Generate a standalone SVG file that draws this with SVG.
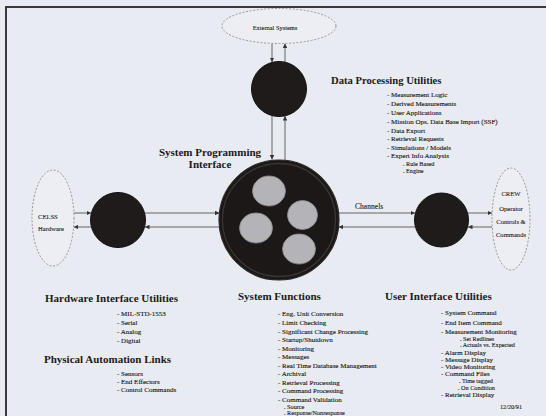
<svg xmlns="http://www.w3.org/2000/svg" width="546" height="416" viewBox="0 0 546 416">
  <style>
    .bg { fill: #e8ebf1; }
    .frame { fill: none; stroke: #3a3a3e; stroke-width: 2; }
    .ext { fill: #eceef3; stroke: #8c8c92; stroke-width: 0.9; stroke-dasharray: 2 1.6; }
    .hub { fill: #201b1b; stroke: #141010; stroke-width: 1; }
    .core { fill: #1d1818; stroke: #2c2727; stroke-width: 1.2; }
    .ring { fill: none; stroke: #3a3434; stroke-width: 1.4; }
    .pod { fill: #b4b4b8; stroke: #8d8d92; stroke-width: 0.8; }
    .link { stroke: #555; stroke-width: 0.9; fill: none; }
    .head { font-family: "Liberation Serif", "Times New Roman", serif; font-weight: bold; font-size: 11px; fill: #1a1a1a; }
    .item { font-family: "Liberation Serif", "Times New Roman", serif; font-size: 7px; fill: #161616; stroke: #161616; stroke-width: 0.12; }
    .sub { font-family: "Liberation Serif", "Times New Roman", serif; font-size: 6.2px; fill: #161616; stroke: #161616; stroke-width: 0.1; }
    .lbl { font-family: "Liberation Serif", "Times New Roman", serif; font-size: 6.6px; fill: #222; stroke: #222; stroke-width: 0.1; }
  </style>
  <defs>
    <marker id="arrow" viewBox="0 0 6 6" refX="6" refY="3" markerWidth="4.5" markerHeight="4.5" markerUnits="userSpaceOnUse" orient="auto">
      <path d="M0,0 L6,3 L0,6 z" fill="#333"/>
    </marker>
  </defs>

  <!-- page -->
  <rect class="bg" x="0" y="0" width="546" height="416"/>
  <rect class="frame" x="6" y="7" width="560" height="430"/>

  <!-- connectors -->
  <g id="connectors">
    <!-- External Systems <-> top hub -->
    <line class="link" x1="272" y1="44" x2="272" y2="62" marker-end="url(#arrow)"/>
    <line class="link" x1="285" y1="62" x2="285" y2="43.5" marker-end="url(#arrow)"/>
    <!-- top hub <-> core -->
    <line class="link" x1="272" y1="116" x2="272" y2="159.5" marker-end="url(#arrow)"/>
    <line class="link" x1="285" y1="160" x2="285" y2="116" marker-end="url(#arrow)"/>
    <!-- CELSS <-> left hub -->
    <line class="link" x1="73.5" y1="213" x2="91" y2="213" marker-end="url(#arrow)"/>
    <line class="link" x1="91" y1="227" x2="73.8" y2="227" marker-end="url(#arrow)"/>
    <!-- left hub <-> core -->
    <line class="link" x1="145" y1="213" x2="219.5" y2="213" marker-end="url(#arrow)"/>
    <line class="link" x1="219.5" y1="227" x2="145" y2="227" marker-end="url(#arrow)"/>
    <!-- core <-> right hub (channels) -->
    <line class="link" x1="338.7" y1="213" x2="415" y2="213" marker-end="url(#arrow)"/>
    <line class="link" x1="415" y1="227" x2="338.7" y2="227" marker-end="url(#arrow)"/>
    <!-- right hub <-> CREW -->
    <line class="link" x1="468" y1="213" x2="492" y2="213" marker-end="url(#arrow)"/>
    <line class="link" x1="492" y1="227" x2="468" y2="227" marker-end="url(#arrow)"/>
    <text class="lbl" x="355" y="208.5" style="font-size:7.6px">Channels</text>
  </g>

  <!-- External Systems -->
  <g id="external-systems">
    <ellipse class="ext" cx="279" cy="26" rx="57" ry="17.5"/>
    <text class="lbl" x="275" y="30" text-anchor="middle" style="font-size:6.4px">External Systems</text>
  </g>

  <!-- Data Processing Utilities hub -->
  <g id="data-processing">
    <circle class="hub" cx="279" cy="89" r="27.5"/>
    <text class="head" x="331" y="83.5" style="font-size:10.6px">Data Processing Utilities</text>
    <text class="item" x="387" y="97">- Measurement Logic</text>
    <text class="item" x="387" y="106">- Derived Measurements</text>
    <text class="item" x="387" y="115">- User Applications</text>
    <text class="item" x="387" y="124">- Mission Ops. Data Base Import (SSF)</text>
    <text class="item" x="387" y="132.5">- Data Export</text>
    <text class="item" x="387" y="141">- Retrieval Requests</text>
    <text class="item" x="387" y="149.5">- Simulations / Models</text>
    <text class="item" x="387" y="158">- Expert Info Analysis</text>
    <text class="sub" x="403" y="166">. Rule Based</text>
    <text class="sub" x="403" y="173">. Engine</text>
  </g>

  <!-- System Programming Interface / System Functions core -->
  <g id="system-core">
    <text class="head" x="210" y="156" text-anchor="middle">System Programming</text>
    <text class="head" x="210" y="168" text-anchor="middle">Interface</text>
    <circle class="core" cx="279" cy="220" r="60"/>
    <circle class="ring" cx="279" cy="220" r="56.5"/>
    <ellipse class="pod" cx="269" cy="191" rx="16.5" ry="15"/>
    <ellipse class="pod" cx="302.5" cy="215" rx="15" ry="14.5"/>
    <ellipse class="pod" cx="256" cy="228" rx="16.5" ry="15"/>
    <ellipse class="pod" cx="299" cy="249" rx="16.5" ry="15"/>
    <text class="head" x="238" y="300">System Functions</text>
    <text class="item" x="278" y="315.5">- Eng. Unit Conversion</text>
    <text class="item" x="278" y="324.5">- Limit Checking</text>
    <text class="item" x="278" y="333.5">- Significant Change Processing</text>
    <text class="item" x="278" y="342">- Startup/Shutdown</text>
    <text class="item" x="278" y="350.5">- Monitoring</text>
    <text class="item" x="278" y="359">- Messages</text>
    <text class="item" x="278" y="367.5">- Real Time Database Management</text>
    <text class="item" x="278" y="376">- Archival</text>
    <text class="item" x="278" y="384.5">- Retrieval Processing</text>
    <text class="item" x="278" y="393">- Command Processing</text>
    <text class="item" x="278" y="401.5">- Command Validation</text>
    <text class="sub" x="284" y="408.5">. Source</text>
    <text class="sub" x="284" y="415">. Response/Nonresponse</text>
  </g>

  <!-- CELSS Hardware -->
  <g id="celss-hardware">
    <ellipse class="ext" cx="53" cy="218" rx="21" ry="48"/>
    <text class="lbl" x="38" y="219">CELSS</text>
    <text class="lbl" x="38" y="230.5">Hardware</text>
  </g>

  <!-- Hardware Interface Utilities hub -->
  <g id="hardware-interface">
    <circle class="hub" cx="118" cy="220" r="27.5"/>
    <text class="head" x="45" y="301.5">Hardware Interface Utilities</text>
    <text class="item" x="117" y="316">- MIL-STD-1553</text>
    <text class="item" x="117" y="325">- Serial</text>
    <text class="item" x="117" y="334">- Analog</text>
    <text class="item" x="117" y="342.5">- Digital</text>
  </g>

  <!-- Physical Automation Links -->
  <g id="physical-automation">
    <text class="head" x="44" y="363">Physical Automation Links</text>
    <text class="item" x="117" y="376">- Sensors</text>
    <text class="item" x="117" y="384">- End Effectors</text>
    <text class="item" x="117" y="392">- Control Commands</text>
  </g>

  <!-- User Interface Utilities hub -->
  <g id="user-interface">
    <circle class="hub" cx="441.5" cy="220" r="27"/>
    <text class="head" x="385" y="300">User Interface Utilities</text>
    <text class="item" x="441" y="315">- System Command</text>
    <text class="item" x="441" y="324.5">- End Item Command</text>
    <text class="item" x="441" y="334">- Measurement Monitoring</text>
    <text class="sub" x="460" y="340.5">. Set Redlines</text>
    <text class="sub" x="460" y="347">. Actuals vs. Expected</text>
    <text class="item" x="441" y="354.5">- Alarm Display</text>
    <text class="item" x="441" y="362">- Message Display</text>
    <text class="item" x="441" y="369">- Video Monitoring</text>
    <text class="item" x="441" y="375.8">- Command Files</text>
    <text class="sub" x="459" y="382.8">. Time tagged</text>
    <text class="sub" x="458" y="389.5">. On Condition</text>
    <text class="item" x="441" y="396.8">- Retrieval Display</text>
    <text class="sub" x="500" y="409">12/20/91</text>
  </g>

  <!-- CREW -->
  <g id="crew">
    <ellipse class="ext" cx="511" cy="219" rx="19" ry="51"/>
    <text class="lbl" x="511" y="195.5" text-anchor="middle">CREW</text>
    <text class="lbl" x="511" y="210.5" text-anchor="middle">Operator</text>
    <text class="lbl" x="511" y="224" text-anchor="middle">Controls &amp;</text>
    <text class="lbl" x="511" y="236.5" text-anchor="middle">Commands</text>
  </g>
</svg>
